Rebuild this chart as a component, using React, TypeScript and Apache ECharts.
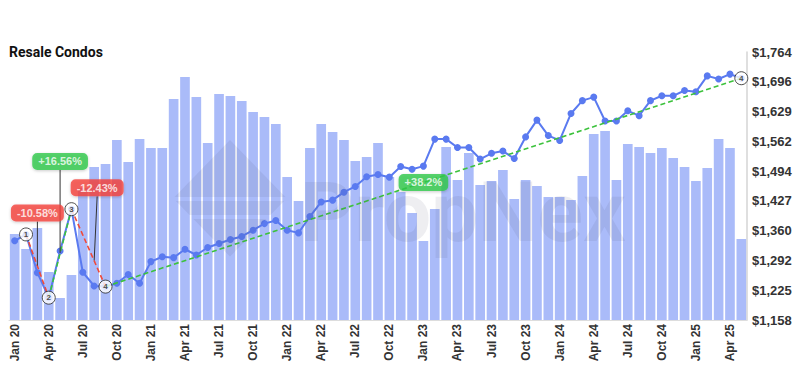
import React, { useEffect, useRef } from 'react';
import * as echarts from 'echarts';

const categories = [
  'Jan 20', 'Feb 20', 'Mar 20', 'Apr 20', 'May 20', 'Jun 20', 'Jul 20', 'Aug 20', 'Sep 20', 'Oct 20', 'Nov 20', 'Dec 20',
  'Jan 21', 'Feb 21', 'Mar 21', 'Apr 21', 'May 21', 'Jun 21', 'Jul 21', 'Aug 21', 'Sep 21', 'Oct 21', 'Nov 21', 'Dec 21',
  'Jan 22', 'Feb 22', 'Mar 22', 'Apr 22', 'May 22', 'Jun 22', 'Jul 22', 'Aug 22', 'Sep 22', 'Oct 22', 'Nov 22', 'Dec 22',
  'Jan 23', 'Feb 23', 'Mar 23', 'Apr 23', 'May 23', 'Jun 23', 'Jul 23', 'Aug 23', 'Sep 23', 'Oct 23', 'Nov 23', 'Dec 23',
  'Jan 24', 'Feb 24', 'Mar 24', 'Apr 24', 'May 24', 'Jun 24', 'Jul 24', 'Aug 24', 'Sep 24', 'Oct 24', 'Nov 24', 'Dec 24',
  'Jan 25', 'Feb 25', 'Mar 25', 'Apr 25', 'May 25',
];

// Transaction volume (relative units, hidden axis)
const volume = [
  86, 71, 92, 48, 22, 45, 132, 153, 156, 180, 158, 181,
  172, 172, 221, 243, 223, 177, 226, 224, 219, 208, 203, 196,
  143, 119, 172, 196, 188, 180, 159, 163, 177, 143, 128, 107,
  79, 111, 173, 140, 167, 135, 139, 150, 121, 140, 134, 123,
  123, 120, 144, 186, 189, 140, 176, 173, 167, 172, 162, 153,
  139, 152, 181, 172, 81,
];

// Price psf ($)
const price = [
  1337, 1351.5, 1265, 1208.5, 1314, 1408.6, 1266, 1235, 1233.5, 1241, 1261, 1241,
  1290, 1301, 1299, 1318, 1305, 1322, 1331, 1340, 1347, 1361, 1376, 1383,
  1361, 1355, 1392, 1425, 1429, 1447, 1460, 1482, 1487, 1481, 1505, 1499,
  1506, 1567, 1567, 1548, 1548, 1522, 1535, 1540, 1523, 1572, 1610, 1575,
  1564, 1625, 1654, 1662, 1608, 1608, 1631, 1620, 1654, 1665, 1665, 1677,
  1674, 1710, 1703, 1714, 1704.7,
];

const priceTicks = [1158, 1225.33, 1292.67, 1360, 1427.33, 1494.67, 1562, 1629.33, 1696.67, 1764];

const markers = [
  { idx: 1, label: '1' },
  { idx: 3, label: '2' },
  { idx: 5, label: '3' },
  { idx: 8, label: '4' },
  { idx: 64, label: '4' },
];

const RED = '#f5413c';
const GREEN = '#2ec94a';

const changes = [
  { text: '-10.58%', from: 1, to: 3, at: 2, color: RED, trendColor: '#f04a3a', dx: 0, dy: -53, leader: true },
  { text: '+16.56%', from: 3, to: 5, at: 4, color: GREEN, trendColor: '#3cc23c', dx: 0, dy: -92, leader: true },
  { text: '-12.43%', from: 5, to: 8, at: 7, color: RED, trendColor: '#f04a3a', dx: 3, dy: -73, leader: true },
  { text: '+38.2%', from: 8, to: 64, at: 36, color: GREEN, trendColor: '#3cc23c', dx: 0, dy: 0, leader: false },
];

const segValue = (c: any, i: number) =>
  price[c.from] + ((i - c.from) / (c.to - c.from)) * (price[c.to] - price[c.from]);

export default function App() {
  const ref = useRef<HTMLDivElement>(null);

  useEffect(() => {
    if (!ref.current) return;
    const chart = echarts.init(ref.current, null, { renderer: 'svg' });

    const segSeries = changes.map((c) => ({
      type: 'line',
      yAxisIndex: 0,
      data: categories.map((_, i) => (i === c.from || i === c.to ? price[i] : '-')),
      connectNulls: true,
      symbol: 'none',
      lineStyle: { color: c.trendColor, width: 1.6, type: [5, 3] },
      z: 4,
      silent: true,
    }));

    const wmFill = 'rgba(70,70,95,0.09)';
    const cx = 230, cy = 198.3, hw = 56.7, hh = 58.3;
    const w = (y: number) => hw * (1 - Math.abs(y - cy) / hh);

    const option: any = {
      animation: false,
      backgroundColor: '#ffffff',
      title: {
        text: 'Resale Condos',
        left: 9,
        top: 45,
        padding: 0,
        textStyle: { fontSize: 14, fontWeight: 'bold', color: '#111', fontFamily: 'Roboto' },
      },
      grid: { left: 9, right: 53, top: 52, bottom: 51 },
      xAxis: {
        type: 'category',
        data: categories,
        boundaryGap: true,
        axisLine: { show: true, lineStyle: { color: '#dddddd', width: 1 } },
        axisTick: { show: false },
        axisLabel: {
          interval: 2,
          rotate: 90,
          margin: 4,
          color: '#333',
          fontSize: 12,
          fontWeight: 'bold',
          fontFamily: 'Liberation Sans',
        },
      },
      yAxis: [
        {
          type: 'value',
          position: 'right',
          min: 1158,
          max: 1764,
          axisLine: { show: true, lineStyle: { color: '#d4d4d4', width: 1.5 } },
          axisTick: { show: false, customValues: priceTicks },
          splitLine: { show: false },
          axisLabel: {
            customValues: priceTicks,
            margin: 5,
            color: '#333',
            fontSize: 13,
            fontWeight: 'bold',
            fontFamily: 'Liberation Sans',
            formatter: (v: number) => '$' + Math.floor(v + 1e-6).toLocaleString('en-US'),
          },
        },
        {
          type: 'value',
          min: 0,
          max: 268,
          show: false,
          splitLine: { show: false },
        },
      ],
      graphic: [
        {
          type: 'polygon',
          z: 100,
          silent: true,
          shape: { points: [[cx, cy - hh], [cx + w(197), 197], [cx - w(197), 197]] },
          style: { fill: wmFill },
        },
        {
          type: 'polygon',
          z: 100,
          silent: true,
          shape: { points: [[cx - w(201), 201], [cx + w(201), 201], [cx + w(215), 215], [cx - w(215), 215]] },
          style: { fill: wmFill },
        },
        {
          type: 'polygon',
          z: 100,
          silent: true,
          shape: { points: [[cx - w(219), 219], [cx + w(219), 219], [cx, cy + hh]] },
          style: { fill: wmFill },
        },
        {
          type: 'text',
          z: 100,
          silent: true,
          x: 300,
          y: 170,
          style: {
            text: 'PropNex',
            fontSize: 84,
            fontWeight: 'bold',
            fontFamily: 'Roboto',
            fill: wmFill,
          },
        },
      ],
      series: [
        {
          type: 'bar',
          yAxisIndex: 1,
          data: volume,
          barCategoryGap: '15%',
          itemStyle: { color: '#aabbf9' },
          z: 1,
          silent: true,
        },
        {
          type: 'line',
          yAxisIndex: 0,
          data: price,
          symbol: 'circle',
          symbolSize: 7,
          showAllSymbol: true,
          lineStyle: { color: '#5a7af0', width: 2 },
          itemStyle: { color: '#5a7af0' },
          z: 3,
          silent: true,
        },
        ...segSeries,
        {
          type: 'scatter',
          yAxisIndex: 0,
          symbol: 'circle',
          symbolSize: 13,
          itemStyle: { color: '#ffffff', borderColor: '#222', borderWidth: 1 },
          label: {
            show: true,
            position: 'inside',
            formatter: (p: any) => p.name,
            color: '#222',
            fontSize: 8,
            fontWeight: 'bold',
            fontFamily: 'Liberation Sans',
          },
          data: markers.map((m) => ({ name: m.label, value: [m.idx, price[m.idx]] })),
          z: 6,
          silent: true,
        },
        {
          type: 'scatter',
          yAxisIndex: 0,
          symbol: 'circle',
          symbolSize: 1,
          itemStyle: { color: 'rgba(0,0,0,0)' },
          label: {
            show: true,
            position: 'inside',
            color: '#fff',
            fontSize: 11,
            fontWeight: 'bold',
            fontFamily: 'Liberation Sans',
            padding: [3, 6, 3, 6],
            borderRadius: 5,
            shadowBlur: 3,
            shadowOffsetY: 1,
            shadowColor: 'rgba(0,0,0,0.25)',
            formatter: (p: any) => p.name,
          },
          labelLine: { show: true, lineStyle: { color: '#333', width: 1 } },
          labelLayout: (p: any) => ({ dx: changes[p.dataIndex].dx, dy: changes[p.dataIndex].dy }),
          data: changes.map((c) => ({
            name: c.text,
            value: [c.at, segValue(c, c.at)],
            label: { backgroundColor: c.color },
            labelLine: { show: c.leader },
          })),
          z: 8,
          silent: true,
        },
      ],
    };

    chart.setOption(option);
    return () => chart.dispose();
  }, []);

  return (
    <div
      ref={ref}
      style={{ position: 'fixed', left: 0, top: 0, width: 800, height: 371, background: '#fff' }}
    />
  );
}
